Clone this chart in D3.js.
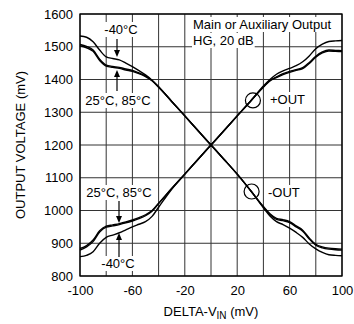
<!DOCTYPE html>
<html><head><meta charset="utf-8">
<script src="https://cdn.jsdelivr.net/npm/d3@7"></script>
<style>body{margin:0;background:#fff}svg{display:block}text{font-family:"Liberation Sans",Arial,sans-serif;fill:#000}</style>
</head><body><svg id="c" width="354" height="324"></svg>
<script>
const deltaVin = [-100,-95,-90,-85,-80,-75,-70,-65,-60,-55,-50,-45,-40,-30,-20,-10,0,10,20,30,40,45,50,55,60,65,70,75,80,85,90,95,100];
// +OUT
const plusOut25 = [884,893,910,938,952,956,960,965,971,978,987,1000,1022,1067,1111,1156,1200,1244,1289,1333,1377,1397,1408,1418,1425,1430,1436,1452,1471,1484,1490,1489,1488];
const plusOut85 = [879,889,905,934,949,953,957,962,968,975,984,998,1021,1067,1111,1156,1200,1244,1289,1333,1377,1396,1406,1415,1422,1428,1433,1449,1468,1481,1487,1486,1485];
const plusOutM40 = [859,863,874,900,918,925,932,941,950,958,966,982,1010,1065,1111,1156,1200,1244,1289,1333,1380,1400,1416,1426,1434,1442,1454,1472,1494,1508,1516,1518,1519];
// -OUT
const minusOut25 = [1507,1501,1490,1462,1444,1440,1437,1432,1428,1420,1411,1397,1377,1333,1289,1244,1200,1156,1111,1062,1012,990,976,972,966,953,940,916,897,889,885,883,882];
const minusOut85 = [1503,1497,1486,1458,1441,1437,1434,1429,1425,1418,1409,1396,1377,1333,1289,1244,1200,1156,1111,1062,1011,988,973,969,963,950,937,913,894,886,882,880,879];
const minusOutM40 = [1533,1529,1515,1490,1469,1464,1460,1450,1439,1427,1414,1398,1378,1333,1289,1244,1200,1156,1111,1062,1008,983,966,957,946,933,918,898,883,872,865,863,862];

const xTickLabels = [-100,-60,-20,20,60,100];
const yTickLabels = [800,900,1000,1100,1200,1300,1400,1500,1600];

const svg = d3.select("#c");
const x = d3.scaleLinear().domain([-100,100]).range([80,342]);
const y = d3.scaleLinear().domain([800,1600]).range([276,14]);
const FS = "13px";

// grid
const gx = d3.range(-100,101,20), gy = d3.range(800,1601,100);
svg.append("g").selectAll("line").data(gx).join("line")
  .attr("x1",d=>x(d)).attr("x2",d=>x(d)).attr("y1",y(800)).attr("y2",y(1600))
  .attr("stroke","#333").attr("stroke-width",1);
svg.append("g").selectAll("line").data(gy).join("line")
  .attr("y1",d=>y(d)).attr("y2",d=>y(d)).attr("x1",x(-100)).attr("x2",x(100))
  .attr("stroke","#333").attr("stroke-width",1);

// axes labels via d3 axes
const fmt = d => String(d);
const xAxis = d3.axisBottom(x).tickValues(xTickLabels).tickFormat(fmt).tickSize(0).tickPadding(10);
const gxa = svg.append("g").attr("transform",`translate(0,${y(800)})`).call(xAxis);
gxa.select(".domain").remove();
gxa.selectAll("text").style("font-size",FS).style("font-family","Liberation Sans, Arial, sans-serif");
const yAxis = d3.axisLeft(y).tickValues(yTickLabels).tickFormat(fmt).tickSize(0).tickPadding(7);
const gya = svg.append("g").attr("transform",`translate(${x(-100)},0)`).call(yAxis);
gya.select(".domain").remove();
gya.selectAll("text").style("font-size",FS).style("font-family","Liberation Sans, Arial, sans-serif");

// annotation texts with white backgrounds
const bgLayer = svg.append("g");
const curveLayer = svg.append("g");
const txtLayer = svg.append("g");
function label(t, px, py, anchor, pad){
  const el = txtLayer.append("text").attr("x",px).attr("y",py).attr("text-anchor",anchor||"start").style("font-size",FS).text(t);
  const b = el.node().getBBox();
  const p = pad||1;
  bgLayer.append("rect").attr("x",b.x-p).attr("y",b.y).attr("width",b.width+2*p).attr("height",b.height).attr("fill","#fff");
  return el;
}
label("Main or Auxiliary Output", 193, 29, "start", 2);
label("HG, 20 dB", 193, 45, "start", 1);
label("-40°C", 121, 34, "middle", 1);
label("25°C, 85°C", 118, 105, "middle", 1);
label("25°C, 85°C", 119, 197, "middle", 1);
label("-40°C", 118, 268, "middle", 1);
label("+OUT", 270, 104, "start", 1);
label("-OUT", 268, 197, "start", 1);

// curves
const series = [plusOut25, plusOut85, plusOutM40, minusOut25, minusOut85, minusOutM40];
const line = d3.line().x((d,i)=>x(deltaVin[i])).y(d=>y(d)).curve(d3.curveMonotoneX);
curveLayer.selectAll("path").data(series).join("path")
  .attr("d",line).attr("fill","none").attr("stroke","#000").attr("stroke-width",1.4);

// circles markers
txtLayer.append("circle").attr("cx",x(32)).attr("cy",y(1336)).attr("r",7.5).attr("fill","none").attr("stroke","#000").attr("stroke-width",1.2);
txtLayer.append("circle").attr("cx",x(31)).attr("cy",y(1058)).attr("r",7.5).attr("fill","none").attr("stroke","#000").attr("stroke-width",1.2);

// arrows
function arrow(px, y0, y1){
  const dir = y1>y0?1:-1;
  txtLayer.append("line").attr("x1",px).attr("x2",px).attr("y1",y0).attr("y2",y1-dir*5).attr("stroke","#000").attr("stroke-width",1.2);
  txtLayer.append("path").attr("d",`M${px-3},${y1-dir*7}L${px+3},${y1-dir*7}L${px},${y1}Z`).attr("fill","#000");
}
arrow(117, 39, 57);
arrow(117, 91, 70);
arrow(119, 201, 223);
arrow(119, 257, 233);

// frame
svg.append("rect").attr("x",x(-100)).attr("y",y(1600)).attr("width",x(100)-x(-100)).attr("height",y(800)-y(1600))
  .attr("fill","none").attr("stroke","#000").attr("stroke-width",1.3);

// titles
const xt = svg.append("text").attr("x",211).attr("y",316).attr("text-anchor","middle").style("font-size",FS);
xt.append("tspan").text("DELTA-V");
xt.append("tspan").attr("dy",3).style("font-size","10px").text("IN");
xt.append("tspan").attr("dy",-3).text(" (mV)");
svg.append("text").attr("transform","translate(25,145) rotate(-90)").attr("text-anchor","middle").style("font-size",FS).text("OUTPUT VOLTAGE (mV)");
</script></body></html>
